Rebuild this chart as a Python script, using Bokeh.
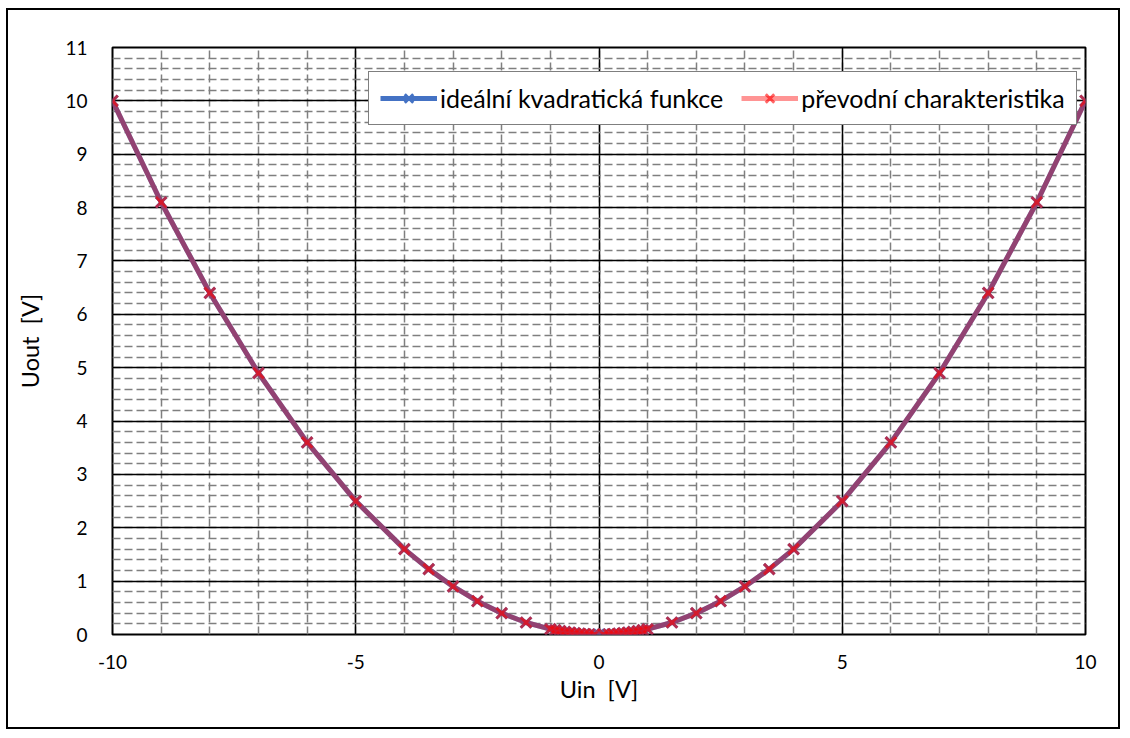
from bokeh.plotting import figure
from bokeh.models import (Range1d, SingleIntervalTicker, Legend, LegendItem,
                          CustomJSTickFormatter)
from bokeh.embed import file_html
from bokeh.resources import INLINE

# ideal quadratic transfer function Uout = Uin^2 / 10
u_in_ideal = [-10, -9, -8, -7, -6, -5, -4, -3.5, -3, -2.5, -2, -1.5,
              -1, -0.9, -0.8, -0.7, -0.6, -0.5, -0.4, -0.3, -0.2, -0.1, 0,
              0.1, 0.2, 0.3, 0.4, 0.5, 0.6, 0.7, 0.8, 0.9, 1,
              1.5, 2, 2.5, 3, 3.5, 4, 5, 6, 7, 8, 9, 10]
u_out_ideal = [10, 8.1, 6.4, 4.9, 3.6, 2.5, 1.6, 1.225, 0.9, 0.625, 0.4, 0.225,
               0.1, 0.081, 0.064, 0.049, 0.036, 0.025, 0.016, 0.009, 0.004, 0.001, 0,
               0.001, 0.004, 0.009, 0.016, 0.025, 0.036, 0.049, 0.064, 0.081, 0.1,
               0.225, 0.4, 0.625, 0.9, 1.225, 1.6, 2.5, 3.6, 4.9, 6.4, 8.1, 10]

# measured transfer characteristic of the squaring circuit
u_in_meas = [-10, -9, -8, -7, -6, -5, -4, -3.5, -3, -2.5, -2, -1.5,
             -1, -0.9, -0.8, -0.7, -0.6, -0.5, -0.4, -0.3, -0.2, -0.1,
             0.1, 0.2, 0.3, 0.4, 0.5, 0.6, 0.7, 0.8, 0.9, 1,
             1.5, 2, 2.5, 3, 3.5, 4, 5, 6, 7, 8, 9, 10]
u_out_meas = [10, 8.1, 6.4, 4.9, 3.6, 2.5, 1.6, 1.225, 0.9, 0.625, 0.4, 0.225,
              0.1, 0.081, 0.064, 0.049, 0.036, 0.025, 0.016, 0.009, 0.004, 0.001,
              0.001, 0.004, 0.009, 0.016, 0.025, 0.036, 0.049, 0.064, 0.081, 0.1,
              0.225, 0.4, 0.625, 0.9, 1.225, 1.6, 2.5, 3.6, 4.9, 6.4, 8.1, 10]

series_names = ["ideální kvadratická funkce", "převodní charakteristika"]
x_label = "Uin\u00a0 [V]"
y_label = "Uout\u00a0 [V]"

FONT = "Lato"

p = figure(width=1114, height=721, output_backend="svg", toolbar_location=None,
           x_range=Range1d(-10, 10), y_range=Range1d(0, 11),
           min_border_left=104, min_border_right=37,
           min_border_top=37, min_border_bottom=97)
# outer chart border drawn around the canvas
p.margin = (8, 0, 0, 6)
p.styles = {"border": "2px solid black"}

p.background_fill_color = "white"
p.border_fill_color = "white"
p.outline_line_color = "black"
p.outline_line_width = 2

p.xaxis.ticker = SingleIntervalTicker(interval=5, num_minor_ticks=5)
p.yaxis.ticker = SingleIntervalTicker(interval=1, num_minor_ticks=5)
p.xaxis.formatter = CustomJSTickFormatter(code="return tick.toFixed(0);")
p.yaxis.formatter = CustomJSTickFormatter(code="return tick.toFixed(0);")

for ax in (p.xaxis[0], p.yaxis[0]):
    ax.axis_line_color = None
    ax.major_tick_line_color = None
    ax.minor_tick_line_color = None
    ax.major_label_text_font = FONT
    ax.major_label_text_font_size = "19px"
    ax.major_label_text_color = "black"
    ax.axis_label_text_font = FONT
    ax.axis_label_text_font_size = "23.5px"
    ax.axis_label_text_font_style = "normal"
    ax.axis_label_text_color = "black"

p.xaxis.axis_label = x_label
p.yaxis.axis_label = y_label
p.xaxis.major_label_standoff = 14
p.yaxis.major_label_standoff = 19
p.xaxis.axis_label_standoff = 3
p.yaxis.axis_label_standoff = 18

for g in (p.xgrid[0], p.ygrid[0]):
    g.grid_line_color = "black"
    g.grid_line_width = 1.5
    g.minor_grid_line_color = "#7f7f7f"
    g.minor_grid_line_width = 1.5
    g.minor_grid_line_dash = "8 4"

l_blue = p.line(u_in_ideal, u_out_ideal, line_color="#4472C4", line_width=5)
m_blue = p.scatter(u_in_ideal, u_out_ideal, marker="x", size=15,
                   line_color="#4472C4", line_width=3)
l_red = p.line(u_in_meas, u_out_meas, line_color="#FF0000", line_width=5,
               line_alpha=0.42)
m_red = p.scatter(u_in_meas, u_out_meas, marker="x", size=15,
                  line_color="#FF0000", line_width=3, line_alpha=0.6)

legend = Legend(items=[LegendItem(label=series_names[0], renderers=[l_blue, m_blue]),
                       LegendItem(label=series_names[1], renderers=[l_red, m_red])],
                orientation="horizontal", location=(256, 509),
                label_text_font=FONT, label_text_font_size="25px",
                label_text_color="black", label_height=30,
                glyph_width=57, glyph_height=30, label_standoff=3,
                spacing=18, padding=11, margin=0,
                border_line_color="black", border_line_width=1.5,
                background_fill_color="white", background_fill_alpha=1)
p.add_layout(legend, "center")

open("out.html", "w").write(file_html(p, INLINE))
